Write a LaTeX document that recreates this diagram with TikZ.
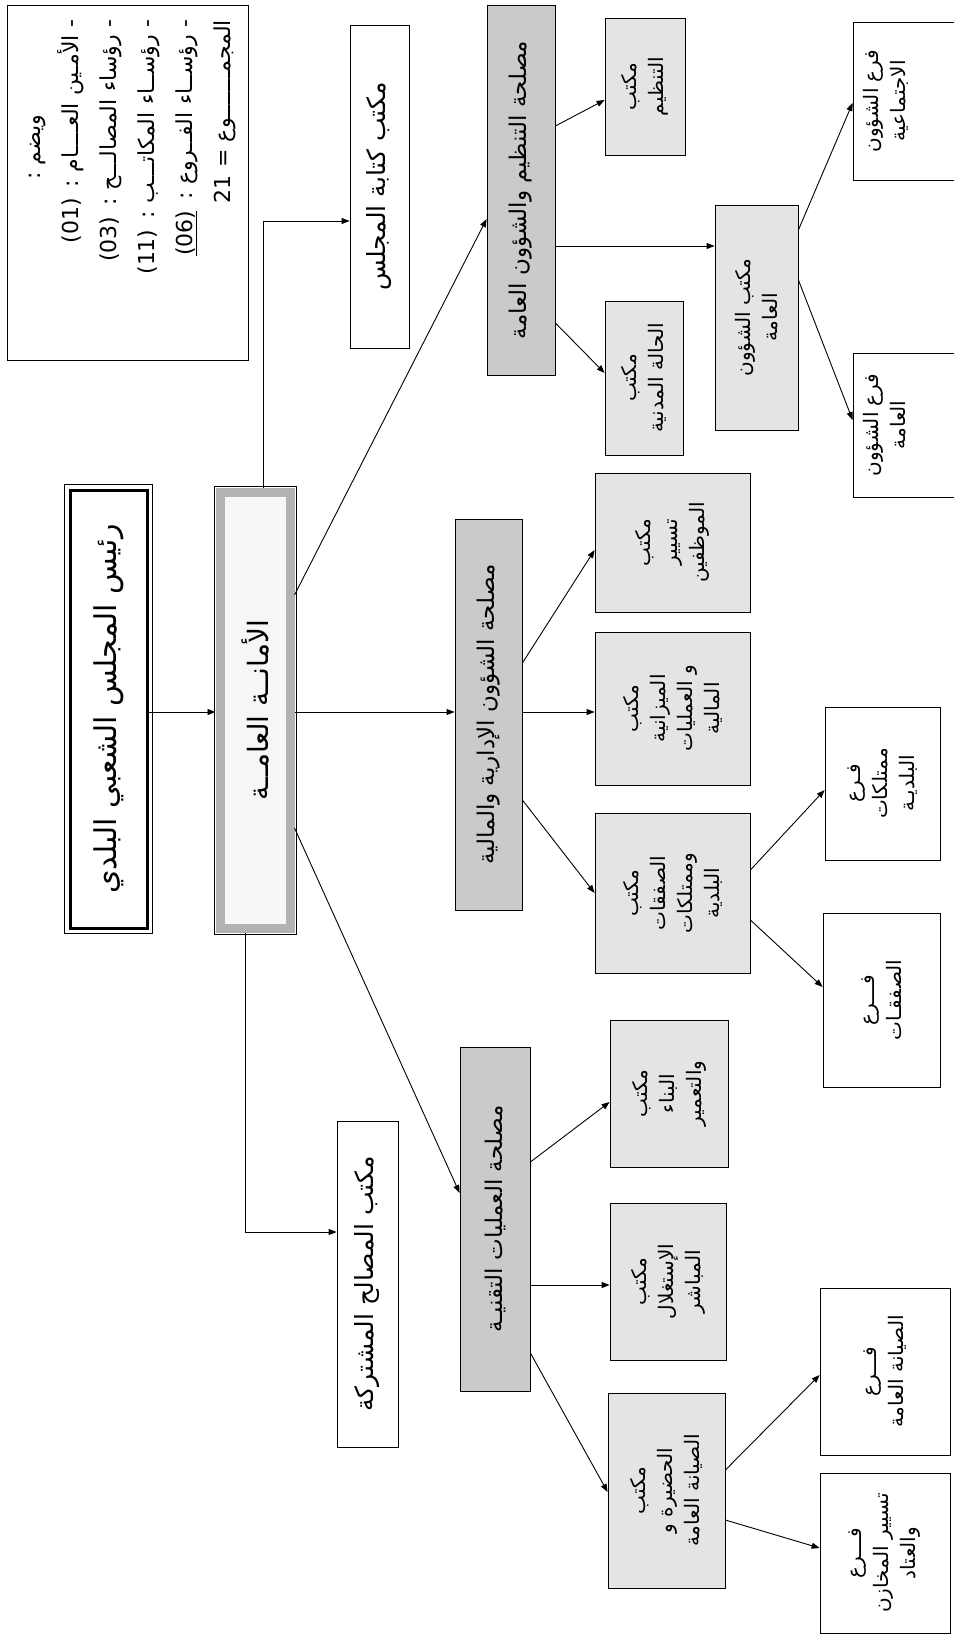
\documentclass[tikz,border=0pt]{standalone}
\usepackage{fontspec}
\newfontfamily\arabicfont[Script=Arabic]{DejaVu Sans}
\usetikzlibrary{arrows.meta}
\TeXXeTstate=1
\definecolor{srvgray}{RGB}{202,202,202}
\definecolor{burgray}{RGB}{228,228,228}
\newcommand{\arl}[1]{\beginR #1\endR}
\newcommand{\cadre}[7]{
\node[#1, minimum width={(#6-#4)*1pt}, minimum height={(#5-#3)*1pt}] (#2) at ({(#3+#5)/2},{(#4+#6)/2}) {#7};}
\tikzset{
  cadreb/.style={draw, rotate=90, inner sep=2pt, align=center, line width=0.8pt},
  legende/.style={cadreb, fill=white, text width=325pt, align=right, font=\arabicfont\fontsize{22}{38}\selectfont},
  president/.style={cadreb, fill=white, line width=3pt, font=\arabicfont\fontsize{30}{34}\selectfont},
  secretariat/.style={cadreb, draw=gray!60, fill=gray!7, line width=9pt, font=\arabicfont\fontsize{28}{34}\selectfont},
  bureaublanc/.style={cadreb, fill=white, font=\arabicfont\fontsize{25}{30}\selectfont},
  service/.style={cadreb, fill=srvgray, font=\arabicfont\fontsize{23}{28}\selectfont},
  bureau/.style={cadreb, fill=burgray, font=\arabicfont\fontsize{20}{27}\selectfont},
  branche/.style={cadreb, fill=white, font=\arabicfont\fontsize{20}{27}\selectfont},
  fleche/.style={-{Triangle[length=8pt,width=6pt]}, line width=0.9pt}
}
\begin{document}
\begin{tikzpicture}[x=1pt,y=-1pt]
\fill[white] (0,0) rectangle (953,1640);
\useasboundingbox (0,0) rectangle (953,1640);
\cadre{legende}{legend}{7}{5}{248}{360}{\begin{tabular}{@{}r@{}}
\multicolumn{1}{@{}c@{}}{\arl{ويضم :}}\\
\arl{- الأمـين العــــام : (01)}\\
\arl{- رؤساء المصالـــح : (03)}\\
\arl{- رؤســاء المكاتـــب : (11)}\\
\arl{- رؤســاء الفــروع : \underline{(06)}}\\
\arl{المجمـــــــوع = 21}
\end{tabular}}
\cadre{president}{pres}{70}{490}{147}{928}{\arl{رئيس المجلس الشعبي البلدي}}
\draw[line width=1.2pt] ([shift={(4pt,-4pt)}]pres.south west) rectangle ([shift={(-4pt,4pt)}]pres.north east);
\cadre{secretariat}{amana}{220}{492}{290}{928}{\arl{الأمانــة العامــة}}
\draw[line width=0.8pt] ([shift={(1.5pt,-1.5pt)}]amana.south west) rectangle ([shift={(-1.5pt,1.5pt)}]amana.north east);
\cadre{bureaublanc}{kitaba}{350}{25}{409}{348}{\arl{مكتب كتابة المجلس}}
\cadre{bureaublanc}{mosh}{337}{1121}{398}{1447}{\arl{مكتب المصالح المشتركة}}
\cadre{service}{srvT}{487}{5}{555}{375}{\arl{مصلحة التنظيم والشؤون العامة}}
\cadre{service}{srvA}{455}{519}{522}{910}{\arl{مصلحة الشؤون الإدارية والمالية}}
\cadre{service}{srvO}{460}{1047}{530}{1391}{\arl{مصلحة العمليات التقنيـة}}
\cadre{bureau}{bTanz}{605}{18}{685}{155}{مكتب\\التنظيم}
\cadre{bureau}{bHala}{605}{301}{683}{455}{مكتب\\\arl{الحالة المدنية}}
\cadre{bureau}{bChou}{715}{205}{798}{430}{\arl{مكتب الشؤون}\\العامة}
\cadre{branche}{fIjt}{853}{22}{965}{180}{\arl{فرع الشؤون}\\الاجتماعية\rule[-50pt]{0pt}{50pt}}
\cadre{branche}{fAmma}{853}{353}{965}{497}{\arl{فرع الشؤون}\\العامة\rule[-50pt]{0pt}{50pt}}
\cadre{bureau}{bMowa}{595}{473}{750}{612}{مكتب\\تسيير\\الموظفين}
\cadre{bureau}{bMiz}{595}{632}{750}{785}{مكتب\\الميزانية\\\arl{و العمليات}\\المالية}
\cadre{bureau}{bSafq}{595}{813}{750}{973}{مكتب\\الصفقات\\وممتلكات\\البلدية}
\cadre{branche}{fMomt}{825}{707}{940}{860}{فـرع\\ممتلكات\\البلديـة}
\cadre{branche}{fSafq}{823}{913}{940}{1087}{فـــرع\\الصفقـات}
\cadre{bureau}{bBina}{610}{1020}{728}{1167}{مكتب\\البناء\\والتعمير}
\cadre{bureau}{bIst}{610}{1203}{726}{1360}{مكتب\\الإستغلال\\المباشر}
\cadre{bureau}{bHad}{608}{1393}{725}{1588}{مكتب\\\arl{الحضيرة و}\\\arl{الصيانة العامة}}
\cadre{branche}{fSyn}{820}{1288}{950}{1455}{فـــرع\\\arl{الصيانة العامة}}
\cadre{branche}{fMakh}{820}{1473}{950}{1633}{فـــرع\\\arl{تسيير المخازن}\\والعتاد}
\draw[fleche] (263,0 |- amana.east) |- (kitaba.north |- 0,221);
\draw[fleche] (245,0 |- amana.west) |- (mosh.north |- 0,1232);
\foreach \a/\ya/\b/\yb in {pres/712/amana/712, amana/595/srvT/219, amana/712/srvA/712,
  amana/828/srvO/1193, srvT/126/bTanz/100, srvT/246/bChou/246, srvT/323/bHala/373,
  bChou/230/fIjt/103, bChou/280/fAmma/420, srvA/663/bMowa/550, srvA/712/bMiz/712,
  srvA/800/bSafq/893, bSafq/870/fMomt/790, bSafq/920/fSafq/987, srvO/1162/bBina/1102,
  srvO/1285/bIst/1285, srvO/1353/bHad/1492, bHad/1470/fSyn/1375, bHad/1520/fMakh/1548}
  \draw[fleche] (\a.south |- 0,\ya) -- (\b.north |- 0,\yb);
\end{tikzpicture}
\end{document}
